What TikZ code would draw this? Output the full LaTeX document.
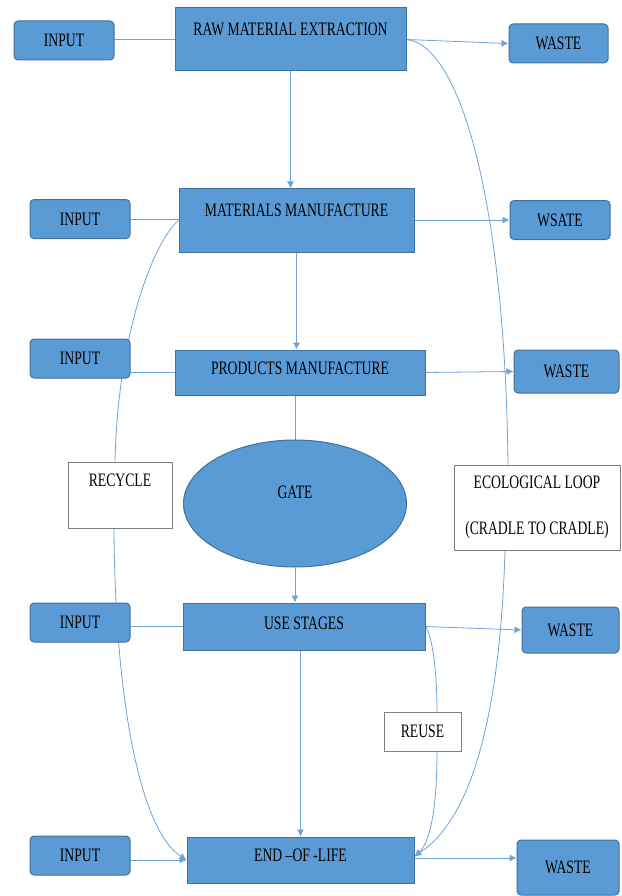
\documentclass[tikz,border=0pt]{standalone}
\usepackage{fontspec}
\setmainfont{Liberation Serif}[FakeStretch=0.72]
\usetikzlibrary{arrows.meta,shapes.geometric,backgrounds}
\definecolor{boxblue}{HTML}{5B9BD5}
\definecolor{boxedge}{HTML}{41719C}
\definecolor{linkblue}{HTML}{6FA3D8}
\definecolor{notegray}{HTML}{7F7F7F}
\tikzset{
	inout/.style={rectangle, rounded corners=4pt, draw=boxedge, fill=boxblue, line width=1pt, minimum width=100pt, minimum height=39pt, inner sep=0pt},
	stage/.style={rectangle, draw=boxedge, fill=boxblue, line width=1pt, inner sep=0pt},
	note/.style={rectangle, draw=notegray, fill=white, line width=0.8pt, inner sep=0pt},
	link/.style={draw=linkblue, line width=0.8pt},
	flow/.style={link, -{Latex[length=7pt,width=7pt]}}
}
\begin{document}
\begin{tikzpicture}[x=1pt, y=-1pt, font=\fontsize{19}{23}\selectfont]
	\useasboundingbox (0,0) rectangle (621,896);
	
	\node[inout] (in1) at (64,40.5) {INPUT};
	\node[stage, minimum width=231pt, text height=27.3pt, text depth=35.7pt] (raw) at (290.5,39.5) {RAW MATERIAL EXTRACTION};
	\node[inout, minimum width=99pt] (w1) at (558.5,43.5) {WASTE};
	
	\node[inout] (in2) at (80,219) {INPUT};
	\node[stage, minimum width=235pt, text height=27.3pt, text depth=35.7pt] (mat) at (296.5,220.5) {MATERIALS MANUFACTURE};
	\node[inout] (w2) at (560,220) {WSATE};
	
	\node[inout] (in3) at (80,358.5) {INPUT};
	\node[stage, minimum width=250pt, text height=24.3pt, text depth=20.7pt] (prod) at (300,372.5) {PRODUCTS MANUFACTURE};
	\node[inout, minimum width=105pt, minimum height=43pt] (w3) at (566.5,371.5) {WASTE};
	
	\node[note, minimum width=104pt, text height=24.3pt, text depth=41.7pt] (recycle) at (120,495) {RECYCLE};
	\node[ellipse, draw=boxedge, fill=boxblue, line width=1pt, inner sep=0pt, minimum width=223pt, minimum height=127pt, text height=13pt, text depth=23.4pt] (gate) at (295,503.5) {GATE};
	\node[note, minimum width=166pt, minimum height=85pt, align=center, font=\fontsize{19}{46}\selectfont] (eco) at (537,507.5) {ECOLOGICAL LOOP\\(CRADLE TO CRADLE)};
	
	\node[inout] (in4) at (80,622.5) {INPUT};
	\node[stage, minimum width=242pt, text height=26.3pt, text depth=20.7pt] (use) at (304,626.5) {USE STAGES};
	\node[inout, minimum width=97pt, minimum height=46pt] (w4) at (570.5,630) {WASTE};
	
	\node[note, minimum width=77pt, minimum height=39pt] (reuse) at (422.5,731.5) {REUSE};
	
	\node[inout] (in5) at (80,855.5) {INPUT};
	\node[stage, minimum width=227pt, text height=24.3pt, text depth=21.7pt] (end) at (300.5,860) {END –OF -LIFE};
	\node[inout, minimum width=102pt, minimum height=55pt] (w5) at (568,867.5) {WASTE};
	
	\begin{scope}[on background layer]
		\draw[link] (in1.east |- raw.west) -- (raw.west);
		\draw[flow] (raw.east) -- (w1.west);
		\draw[flow] (raw.south) -- (raw.south |- mat.north);
		\draw[link] (in2.east) -- (in2.east -| mat.west);
		\draw[flow] (mat.east |- w2.west) -- (w2.west);
		\draw[flow] (mat.south) -- (mat.south |- prod.north);
		\draw[link] (in3.east |- prod.west) -- (prod.west);
		\draw[flow] (prod.east) -- (w3.west);
		\draw[link] (gate.north |- prod.south) -- (gate.north);
		\draw[flow] (gate.south) -- (gate.south |- use.north);
		\draw[link] (in4.east |- use.west) -- (use.west);
		\draw[flow] (use.east) -- (w4.west);
		\draw[flow] (end.north |- use.south) -- (end.north);
		\draw[flow] (in5.east |- end.west) -- (end.west);
		\draw[flow] ([yshift=2pt]end.east) -- ([yshift=2pt]end.east -| w5.west);
		
		\draw[link] (mat.west) .. controls (155,240) and (118,330) .. ([xshift=-5pt]recycle.north);
		\draw[flow] ([xshift=-6pt]recycle.south) .. controls (115,700) and (140,830) .. (end.west);
		\draw[link] (raw.east) .. controls (460,45) and (505,200) .. ([xshift=-29pt]eco.north);
		\draw[flow] ([xshift=-32pt]eco.south) .. controls (500,720) and (470,820) .. ([yshift=4pt]end.east);
		\draw[link] (use.east) .. controls (432,635) and (437,670) .. ([xshift=14.5pt]reuse.north);
		\draw[flow] ([xshift=14.5pt]reuse.south) .. controls (437,800) and (432,840) .. ([yshift=3pt]end.east);
	\end{scope}
\end{tikzpicture}
\end{document}
